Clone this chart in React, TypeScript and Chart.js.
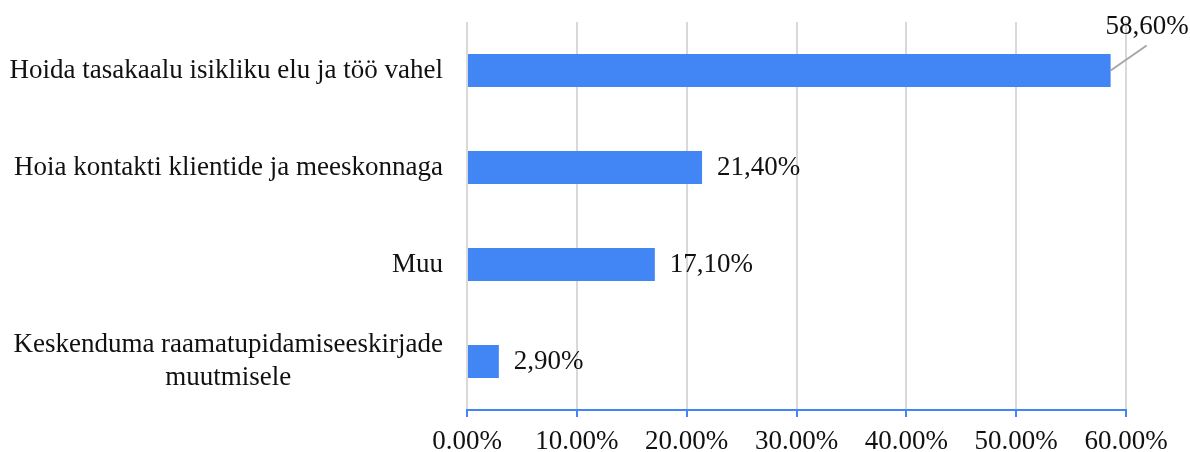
import React, { useEffect, useRef } from "react";
import { Chart, registerables } from "chart.js";

Chart.register(...registerables);

const categories: string[][] = [
  ["Hoida tasakaalu isikliku elu ja töö vahel"],
  ["Hoia kontakti klientide ja meeskonnaga"],
  ["Muu"],
  ["Keskenduma raamatupidamiseeskirjade", "muutmisele"],
];
const values: number[] = [58.6, 21.4, 17.1, 2.9];
const valueLabels: string[] = ["58,60%", "21,40%", "17,10%", "2,90%"];
const xTicks: number[] = [0, 10, 20, 30, 40, 50, 60];

const FONT = '"Liberation Serif", "Times New Roman", serif';
const FONT_SIZE = 27;
const TEXT_COLOR = "#111111";
const BLUE = "#4285F4";

const labelsPlugin = {
  id: "customLabels",
  afterDatasetsDraw(chart: any) {
    const ctx = chart.ctx;
    const yScale = chart.scales.y;
    const area = chart.chartArea;
    ctx.save();
    ctx.font = `${FONT_SIZE}px ${FONT}`;
    ctx.fillStyle = TEXT_COLOR;
    ctx.textBaseline = "middle";
    // category labels
    const rightEdge = area.left - 24;
    const lh = 33;
    categories.forEach((lines, i) => {
      const cy = yScale.getPixelForValue(i);
      const maxW = Math.max(...lines.map((l) => ctx.measureText(l).width));
      const startY = cy - ((lines.length - 1) * lh) / 2;
      lines.forEach((line, j) => {
        if (lines.length > 1) {
          ctx.textAlign = "center";
          ctx.fillText(line, rightEdge - maxW / 2, startY + j * lh);
        } else {
          ctx.textAlign = "right";
          ctx.fillText(line, rightEdge, startY + j * lh);
        }
      });
    });
    // value labels
    const meta = chart.getDatasetMeta(0);
    meta.data.forEach((bar: any, i: number) => {
      const text = valueLabels[i];
      const w = ctx.measureText(text).width;
      ctx.textAlign = "left";
      if (bar.x + 15 + w > chart.width) {
        ctx.strokeStyle = "#a6a6a6";
        ctx.lineWidth = 2;
        ctx.beginPath();
        ctx.moveTo(bar.x, bar.y);
        ctx.lineTo(bar.x + 36, bar.y - 25);
        ctx.stroke();
        ctx.fillText(text, bar.x - 5, bar.y - 44);
      } else {
        ctx.fillText(text, bar.x + 15, bar.y);
      }
    });
    ctx.restore();
  },
};

export default function App() {
  const ref = useRef<HTMLCanvasElement | null>(null);
  useEffect(() => {
    if (!ref.current) return;
    const chart = new Chart(ref.current, {
      type: "bar",
      data: {
        labels: categories.map((c) => c.join(" ")),
        datasets: [
          {
            data: values,
            backgroundColor: BLUE,
            borderWidth: 0,
            categoryPercentage: 1,
            barPercentage: 0.34,
          },
        ],
      },
      options: {
        indexAxis: "y",
        animation: false,
        responsive: false,
        layout: { padding: { left: 467, right: 64, top: 22, bottom: 0 } },
        plugins: {
          legend: { display: false },
          tooltip: { enabled: false },
        },
        scales: {
          y: { display: false },
          x: {
            min: xTicks[0],
            max: xTicks[xTicks.length - 1],
            afterBuildTicks: (scale: any) => {
              scale.ticks = xTicks.map((v) => ({ value: v }));
            },
            afterFit: (scale: any) => {
              scale.height = 42;
            },
            grid: {
              color: "#d9d9d9",
              lineWidth: 2,
              tickColor: BLUE,
              tickLength: 7,
            },
            border: { color: BLUE, width: 2 },
            ticks: {
              padding: 9,
              color: TEXT_COLOR,
              font: { family: FONT, size: FONT_SIZE },
              callback: (v: any) => Number(v).toFixed(2) + "%",
              maxRotation: 0,
              autoSkip: false,
            },
          },
        },
      },
      plugins: [labelsPlugin],
    });
    return () => chart.destroy();
  }, []);
  return (
    <div style={{ position: "absolute", left: 0, top: 0, width: 1190, height: 452 }}>
      <canvas ref={ref} width={1190} height={452} />
    </div>
  );
}
